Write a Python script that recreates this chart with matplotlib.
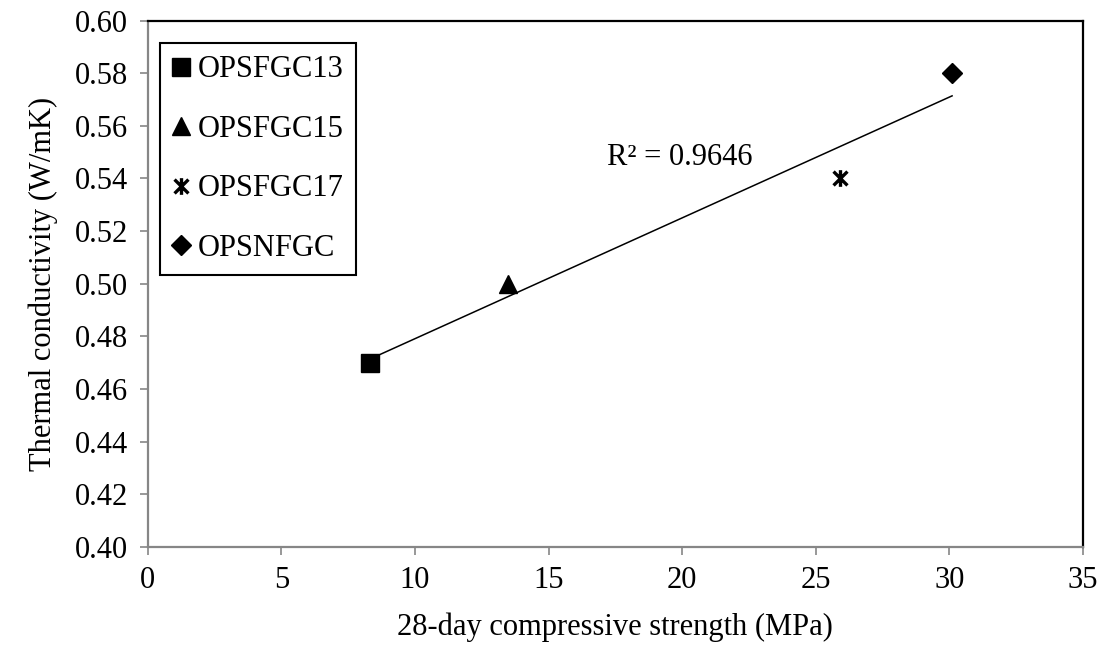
import numpy as np
import matplotlib
matplotlib.use('Agg')
import matplotlib.pyplot as plt
from matplotlib.path import Path

plt.rcParams.update({
    'font.family': ['Liberation Serif', 'DejaVu Serif'],
    'font.size': 22,
})

# data
labels = ['OPSFGC13', 'OPSFGC15', 'OPSFGC17', 'OPSNFGC']
strength = [8.3, 13.5, 25.9, 30.1]
conductivity = [0.47, 0.50, 0.54, 0.58]
r2_text = 'R² = 0.9646'

# excel-like "star" marker: an X with a vertical bar
star = Path([(-1, -1), (1, 1), (-1, 1), (1, -1), (0, -1.2), (0, 1.2)],
            [Path.MOVETO, Path.LINETO, Path.MOVETO, Path.LINETO, Path.MOVETO, Path.LINETO])

styles = [
    dict(marker='s', markersize=13.5),
    dict(marker='^', markersize=13.5),
    dict(marker=star, markersize=12, markeredgewidth=2.4),
    dict(marker='D', markersize=10.5),
]

fig = plt.figure(figsize=(11.1, 6.66), dpi=100)
ax = fig.add_axes([0.1331, 0.1787, 0.8426, 0.7905])

for xv, yv, lab, st in zip(strength, conductivity, labels, styles):
    ax.plot([xv], [yv], linestyle='none', color='black', markerfacecolor='black',
            markeredgecolor='black', label=lab, **st)

# linear trendline
coef = np.polyfit(strength, conductivity, 1)
xs = np.array([min(strength), max(strength)])
ax.plot(xs, np.polyval(coef, xs), color='black', linewidth=1.1, zorder=1)
ax.text(17.2, 0.548, r2_text, fontsize=22, va='center', ha='left')

ax.set_xlim(0, 35)
ax.set_ylim(0.40, 0.60)
ax.set_xticks(np.arange(0, 36, 5))
ax.set_yticks(np.arange(0.40, 0.601, 0.02))
ax.set_yticklabels([f'{v:.2f}' for v in np.arange(0.40, 0.601, 0.02)])

for side in ['left', 'bottom']:
    ax.spines[side].set_color('#868686')
    ax.spines[side].set_linewidth(1.6)
for side in ['top', 'right']:
    ax.spines[side].set_color('black')
    ax.spines[side].set_linewidth(1.6)
ax.tick_params(direction='out', length=6, width=1.2, color='#868686', pad=8, labelsize=22)

ax.set_xlabel('28-day compressive strength (MPa)', fontsize=22, labelpad=12)
ax.set_ylabel('Thermal conductivity (W/mK)', fontsize=22, labelpad=12)

leg = ax.legend(loc='upper left', bbox_to_anchor=(0.013, 0.957), borderaxespad=0,
                frameon=True, fancybox=False, edgecolor='black', framealpha=1,
                handlelength=0.6, handletextpad=0.25, labelspacing=1.0,
                borderpad=0.4, fontsize=22, numpoints=1)
leg.get_frame().set_linewidth(1.5)

fig.savefig('out.png', dpi=100, facecolor='white')
